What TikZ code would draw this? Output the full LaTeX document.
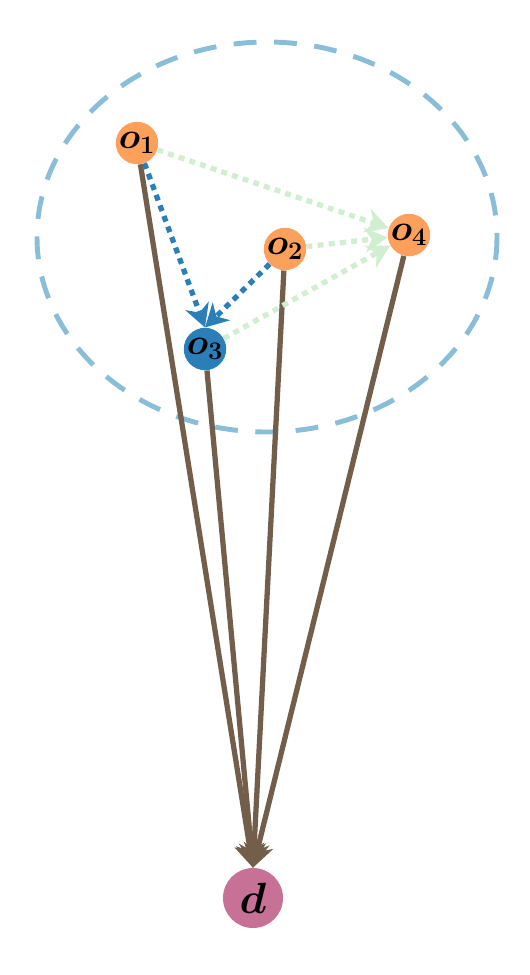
\documentclass[tikz,border=0pt]{standalone}
\usepackage{amsmath,bm}
\usetikzlibrary{arrows.meta}
\definecolor{objorange}{HTML}{FDA05C}
\definecolor{objblue}{HTML}{2B7FB8}
\definecolor{destpink}{HTML}{C87196}
\definecolor{linkbrown}{HTML}{735E4C}
\definecolor{linkgreen}{HTML}{D2EED0}
\definecolor{groupblue}{HTML}{8ABDD8}
\begin{document}
\begin{tikzpicture}[x=0.02cm, y=-0.02cm,
  obj/.style={circle, fill=objorange, minimum size=0.84cm, inner sep=0pt, font=\huge},
  tolink/.style={linkbrown, line width=3pt, -{Stealth[length=13pt, width=17pt, inset=4pt]}},
  bluelink/.style={objblue, line width=3pt, dash pattern=on 3.4pt off 3pt, -{Stealth[length=13pt, width=14pt, inset=4pt]}},
  greenlink/.style={linkgreen, line width=3pt, dash pattern=on 3.4pt off 3pt, -{Stealth[length=13pt, width=14pt, inset=4pt]}}]
  \useasboundingbox (0,0) rectangle (529,975);
  \draw[groupblue, line width=2.8pt, dash pattern=on 13pt off 10pt] (267,237) ellipse [x radius=230, y radius=195];
  \node (o1) at (137,143) [obj] {$\bm{o_1}$};
  \node (o2) at (285,249) [obj] {$\bm{o_2}$};
  \node (o3) at (205,349) [obj, fill=objblue] {$\bm{o_3}$};
  \node (o4) at (409,235) [obj] {$\bm{o_4}$};
  \node (d) at (253,898) [circle, fill=destpink, minimum size=1.2cm, inner sep=0pt, font=\Huge] {$\bm{d}$};
  \draw[tolink] (o1) -- (d.north);
  \draw[tolink] (o2) -- (d.north);
  \draw[tolink] (o3) -- (d.north);
  \draw[tolink] (o4) -- (d.north);
  \draw[bluelink] (o1) -- (o3.north);
  \draw[bluelink] (o2) -- (o3.north);
  \draw[greenlink] (o1) -- (o4);
  \draw[greenlink] (o2) -- (o4);
  \draw[greenlink] (o3) -- (o4);
\end{tikzpicture}
\end{document}
